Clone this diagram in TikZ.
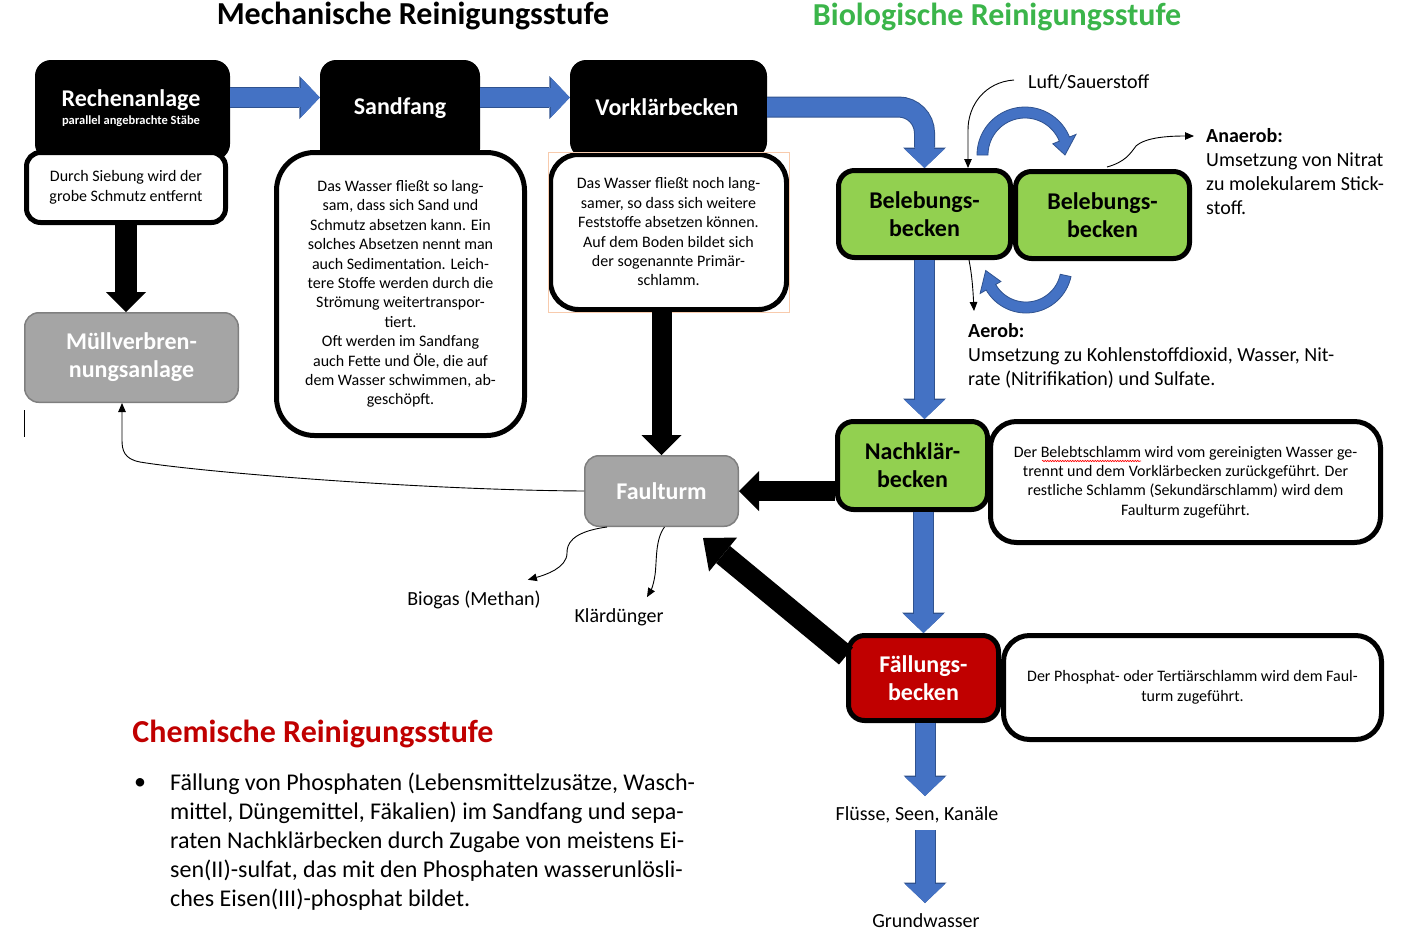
\documentclass[tikz,border=0pt]{standalone}
\usepackage{fontspec}
\setmainfont{Carlito}
\usetikzlibrary{arrows.meta,calc,decorations.pathmorphing}
\definecolor{blueA}{HTML}{4472C4}
\definecolor{blueB}{HTML}{2F528F}
\definecolor{greenA}{HTML}{92D050}
\definecolor{redA}{HTML}{C00000}
\definecolor{grayA}{HTML}{A5A5A5}
\definecolor{grayB}{HTML}{7F7F7F}
\definecolor{bioG}{HTML}{3BB54A}
\definecolor{peach}{HTML}{F8CBAD}
\newcommand\myfs[2]{\fontsize{#1}{#2}\selectfont}
\begin{document}
\begin{tikzpicture}[x=1pt,y=-1pt,
  blackbox/.style={fill=black, rounded corners=16pt, inner sep=0pt},
  boxtitle/.style={text=white, font=\bfseries\myfs{24}{28}, align=center, inner sep=0pt},
  wbox/.style={draw=black, fill=white, line width=5pt, inner sep=0pt, align=center, font=\myfs{16}{19.4}},
  gbox/.style={draw=black, fill=greenA, line width=5pt, rounded corners=16pt, inner sep=0pt, align=center, font=\bfseries\myfs{24}{28}},
  rbox/.style={gbox, fill=redA, text=white},
  graybox/.style={draw=grayB, fill=grayA, line width=1.5pt, rounded corners=14pt, inner sep=0pt, align=center, text=white, font=\bfseries\myfs{24}{28}},
  bluearr/.style={draw=blueA, line width=19pt, -{Triangle[length=19pt,width=40pt,line width=0pt]},
     preaction={draw=blueB, line width=21pt, -{Triangle[length=20.5pt,width=43pt,line width=0pt]}}},
  blackarr/.style={draw=black, line width=#1, -{Triangle[length=20pt,width=40pt,line width=0pt]}},
  blackarr/.default=20pt,
  thinarr/.style={draw=black, line width=0.9pt, -{Triangle[length=9pt,width=7.5pt]}},
  lbl/.style={font=\myfs{20}{24}, inner sep=0pt},
  blueshape/.style={fill=blueA, draw=blueB, line width=0.8pt}
]
\useasboundingbox (0,0) rectangle (1406,938);

% titles
\node[font=\bfseries\myfs{32}{36}, inner sep=0pt] (t1) at (413,16) {Mechanische Reinigungsstufe};
\node[font=\bfseries\myfs{32}{36}, text=bioG, inner sep=0pt] (t2) at (997,17) {Biologische Reinigungsstufe};

% black boxes
\node[blackbox, minimum width=195pt, minimum height=100pt] (rechen) at (132.5,110) {};
\node[blackbox, minimum width=160pt, minimum height=105pt] (sand) at (400,112.5) {};
\node[blackbox, minimum width=197pt, minimum height=98pt] (vork) at (668.5,109) {};
\node[boxtitle] (rechenT) at (131,100) {Rechenanlage};
\node[text=white, font=\bfseries\myfs{12.5}{14}, inner sep=0pt] (rechenS) at (131,121) {parallel angebrachte Stäbe};
\node[boxtitle] (sandT) at (400,108) {Sandfang};
\node[boxtitle] (vorkT) at (667,107) {Vorklärbecken};

% white description boxes
\node[wbox, rounded corners=14pt, minimum width=199pt, minimum height=70pt] (rechW) at (126,187.5)
  {Durch Siebung wird der\\grobe Schmutz entfernt};
\node[wbox, rounded corners=38pt, minimum width=248pt, minimum height=283pt] (sandW) at (400.5,294)
  {Das Wasser fließt so lang-\\sam, dass sich Sand und\\Schmutz absetzen kann. Ein\\solches Absetzen nennt man\\auch Sedimentation. Leich-\\tere Stoffe werden durch die\\Strömung weitertranspor-\\tiert.\\Oft werden im Sandfang\\auch Fette und Öle, die auf\\dem Wasser schwimmen, ab-\\geschöpft.};
\node[wbox, rounded corners=28pt, minimum width=236pt, minimum height=155pt] (vorkW) at (668.5,232)
  {Das Wasser fließt noch lang-\\samer, so dass sich weitere\\Feststoffe absetzen können.\\Auf dem Boden bildet sich\\der sogenannte Primär-\\schlamm.};
\draw[peach, line width=0.8pt] (vorkW.north west) rectangle (vorkW.south east);

% blue flow arrows
\coordinate (rowA) at (0,97.5);
\coordinate (rowB) at (0,107);
\draw[bluearr] (rechen.east |- rowA) -- (sand.west |- rowA);
\draw[bluearr] (sand.east |- rowA) -- (vork.west |- rowA);

% biological boxes
\node[gbox, minimum width=172pt, minimum height=87pt] (beleb1) at (924.5,214) {Belebungs-\\becken};
\node[gbox, minimum width=174pt, minimum height=87pt] (beleb2) at (1102.5,215) {Belebungs-\\becken};
\node[gbox, minimum width=150pt, minimum height=88pt] (nach) at (912.5,465.5) {Nachklär-\\becken};
\node[wbox, rounded corners=26pt, minimum width=390pt, minimum height=121pt] (nachW) at (1185.5,482)
  {Der Belebtschlamm wird vom gereinigten Wasser ge-\\trennt und dem Vorklärbecken zurückgeführt. Der\\restliche Schlamm (Sekundärschlamm) wird dem\\Faulturm zugeführt.};
\draw[red, line width=0.6pt, decorate, decoration={snake, amplitude=0.7pt, segment length=2.5pt}] (1042,461) -- (1141,461);
\node[rbox, minimum width=150pt, minimum height=85pt] (fall) at (923.5,678) {Fällungs-\\becken};
\node[wbox, rounded corners=26pt, minimum width=378pt, minimum height=104pt] (fallW) at (1192.5,687.5)
  {Der Phosphat- oder Tertiärschlamm wird dem Faul-\\turm zugeführt.};

% gray boxes
\node[graybox, minimum width=213.5pt, minimum height=89.5pt] (muell) at (131.5,357.5) {Müllverbren-\\nungsanlage};
\node[graybox, minimum width=153.5pt, minimum height=70.5pt] (faul) at (661.5,491) {Faulturm};

\draw[bluearr, rounded corners=26pt] (vork.east |- rowB) -- (beleb1.north |- rowB) -- (beleb1.north);
\draw[bluearr] (beleb1.south) -- (beleb1.south |- nach.north);
\draw[bluearr] (fall.north |- nach.south) -- (fall.north);

% outflow
\node[lbl] (fluss) at (917,815) {Flüsse, Seen, Kanäle};
\node[lbl] (grund) at (926,921) {Grundwasser};
\coordinate (flussTop) at (925,796);
\coordinate (flussBot) at (925,830);
\coordinate (grundTop) at (925,903);
\draw[bluearr] (fall.south -| flussTop) -- (flussTop);
\draw[bluearr] (flussBot) -- (grundTop);

% black sludge arrows
\draw[blackarr=22pt] (rechW.south) -- (rechW.south |- muell.north);
\draw[blackarr] (vorkW.south -| faul.north) -- (faul.north);
\draw[blackarr] (nach.west |- faul.east) -- (faul.east);
\draw[draw=black, line width=22pt, -{Triangle[length=26pt,width=44pt,line width=0pt]}]
  ($(fall.west)+(0,-22)$) -- ($(faul.south east)+(-36,11)$);

% thin arrows
\coordinate (mb) at (122,0);
\draw[thinarr] (faul.west) .. controls (420,490) and (200,472) .. (140,462)
  .. controls (124,459) and (122,450) .. (122,440) -- (mb |- muell.south);
\node[lbl] (biogas) at (474,600) {Biogas (Methan)};
\node[lbl] (klaer) at (619,617) {Klärdünger};
\draw[thinarr] ($(faul.south west)+(23,0)$) .. controls (570,532) and (567,545) .. (567,553)
  .. controls (567,568) and (545,575) .. ($(biogas.north east)+(-13,-11)$);
\draw[thinarr] ($(faul.south)+(3,0)$) .. controls (655,540) and (657,560) .. (655,575)
  .. controls (653,588) and (650,592) .. ($(klaer.north)+(28,-11)$);

\node[font=\myfs{20}{24}, anchor=west, inner sep=0pt] (luft) at (1028,82) {Luft/Sauerstoff};
\coordinate (cx) at (968,0);
\draw[thinarr] ($(luft.west)+(-14,-2)$) .. controls (985,82) and (968,105) .. (968,130) -- (cx |- beleb1.north);

\coordinate (aerobTip) at (974,311);
\draw[thinarr] ($(beleb1.south)+(44.5,0)$) .. controls (972,275) and (973,290) .. (aerobTip);
\coordinate (anaTip) at (1194,136);
\draw[thinarr] ($(beleb2.north)+(4.5,-2)$) .. controls (1125,162) and (1130,154) .. (1136,146)
  .. controls (1146,137) and (1170,136) .. (anaTip);

\node[anchor=west, align=left, font=\myfs{20}{24}, inner sep=0pt] (ana) at (1206,172)
  {\textbf{Anaerob:}\\Umsetzung von Nitrat\\zu molekularem Stick-\\stoff.};
\node[anchor=west, align=left, font=\myfs{20}{24}, inner sep=0pt] (aer) at (968,356)
  {\textbf{Aerob:}\\Umsetzung zu Kohlenstoffdioxid, Wasser, Nit-\\rate (Nitrifikation) und Sulfate.};

% curved blue circulation arrows
\fill[blueshape] plot[domain=-180:-22, samples=40] ({1025+48*cos(\x)}, {155+48*sin(\x)})
  -- (1076,134.4) -- (1065,155) -- (1052.8,143.8)
  -- plot[domain=-22:-180, samples=40] ({1025+37*cos(\x)}, {155+37*sin(\x)}) -- cycle;
\fill[blueshape] plot[domain=12:150, samples=40] ({1026+46*cos(\x)}, {267+46*sin(\x)})
  -- (980.1,293.5) -- (985.7,270.5) -- (1000.9,281.5)
  -- plot[domain=150:12, samples=40] ({1026+35*cos(\x)}, {267+35*sin(\x)}) -- cycle;

% chemical stage
\node[font=\bfseries\myfs{32}{36}, text=redA, inner sep=0pt] (t3) at (313,734) {Chemische Reinigungsstufe};
\node[anchor=west, inner sep=0pt, font=\myfs{24}{29}] (bul) at (134,784) {\textbullet};
\node[anchor=west, align=left, font=\myfs{24}{29}, inner sep=0pt] (chemtxt) at (170,842)
  {Fällung von Phosphaten (Lebensmittelzusätze, Wasch-\\mittel, Düngemittel, Fäkalien) im Sandfang und sepa-\\raten Nachklärbecken durch Zugabe von meistens Ei-\\sen(II)-sulfat, das mit den Phosphaten wasserunlösli-\\ches Eisen(III)-phosphat bildet.};

% cursor mark
\draw[line width=1pt] (24,410) -- (24,437);
\end{tikzpicture}
\end{document}
